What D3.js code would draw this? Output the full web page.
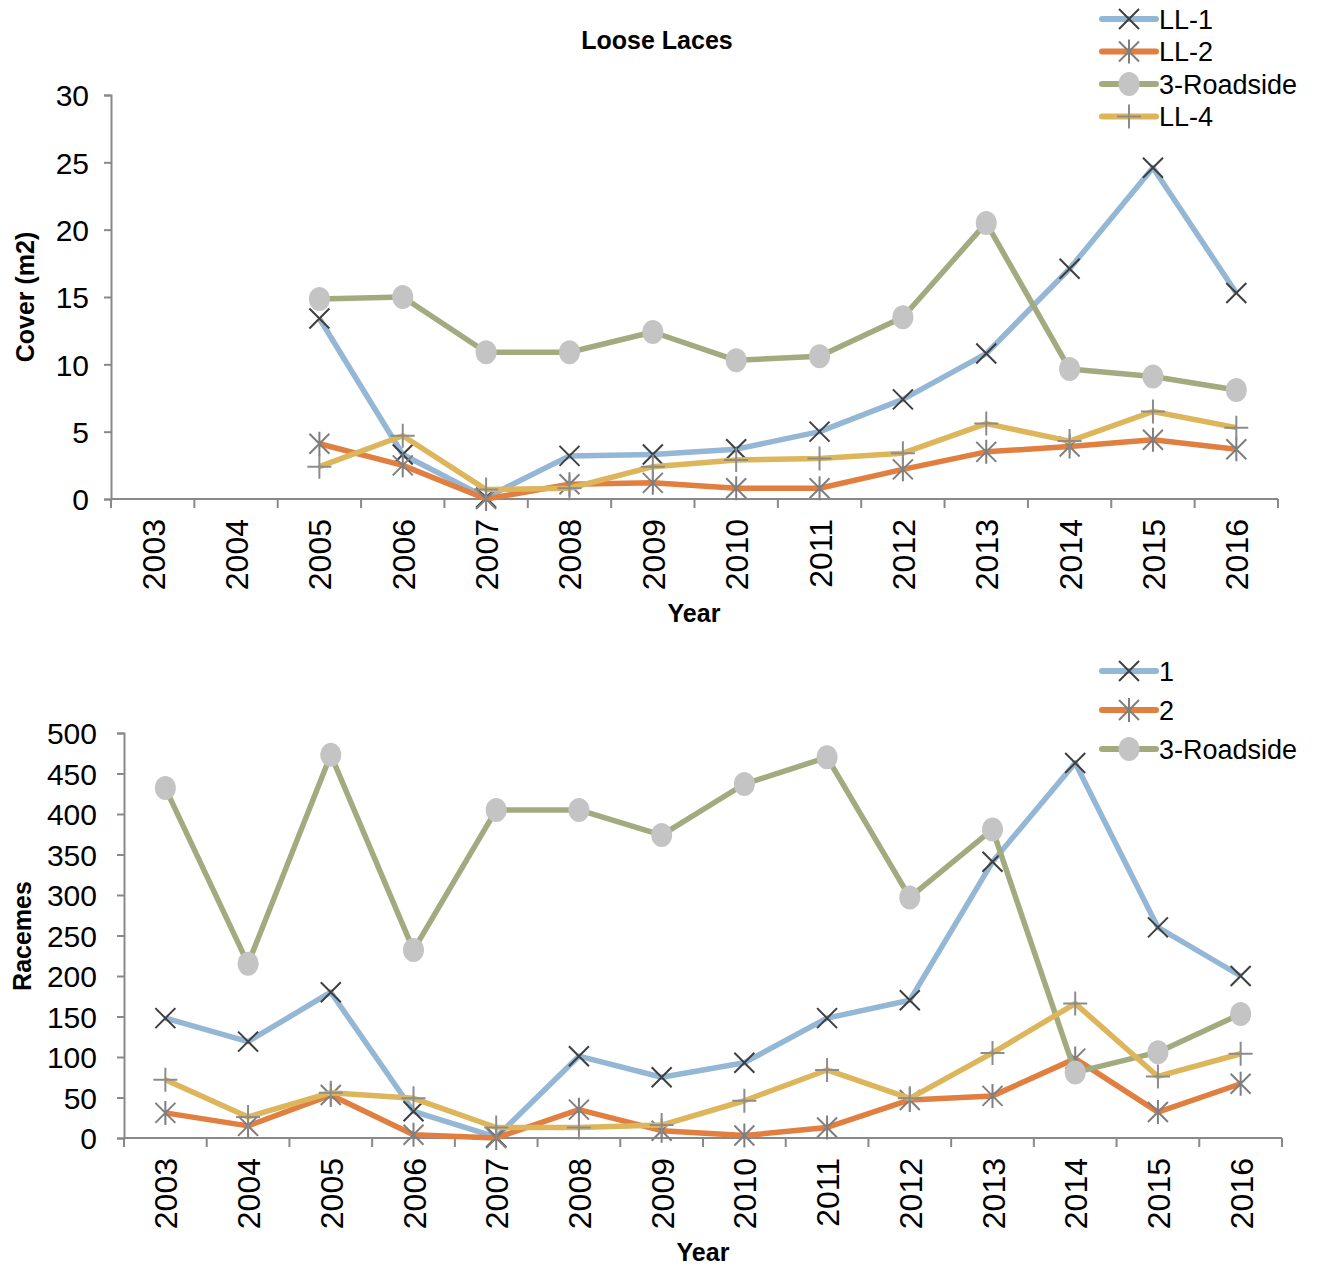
<!DOCTYPE html>
<html>
<head>
<meta charset="utf-8">
<script src="https://cdn.jsdelivr.net/npm/d3@7"></script>
<style>
  html, body { margin: 0; padding: 0; background: #fff; }
  svg { display: block; }
  text { font-family: "Liberation Sans", Arial, sans-serif; fill: #000; }
</style>
</head>
<body>
<svg id="chart" width="1322" height="1269"></svg>
<script>
// Survey years
const years = ["2003","2004","2005","2006","2007","2008","2009","2010","2011","2012","2013","2014","2015","2016"];

// Cover (m2) per plot
const coverLL1  = [null, null, 13.4, 3.3, 0.1, 3.2, 3.3, 3.7, 5.0, 7.4, 10.8, 17.1, 24.6, 15.3];
const coverLL2  = [null, null, 4.1, 2.5, 0.0, 1.1, 1.2, 0.8, 0.8, 2.2, 3.5, 3.9, 4.4, 3.7];
const coverRoad = [null, null, 14.85, 15.0, 10.9, 10.9, 12.4, 10.3, 10.6, 13.5, 20.5, 9.65, 9.1, 8.1];
const coverLL4  = [null, null, 2.4, 4.7, 0.7, 0.8, 2.4, 2.9, 3.0, 3.4, 5.6, 4.3, 6.5, 5.3];

// Raceme counts per plot
const racemes1    = [148, 119, 180, 33, 1, 101, 75, 93, 148, 170, 341, 463, 260, 200];
const racemes2    = [31, 15, 53, 4, 0, 35, 9, 3, 13, 47, 52, 98, 32, 67];
const racemesRoad = [432, 215, 473, 232, 405, 405, 374, 437, 470, 297, 381, 81, 106, 153];
const racemes4    = [72, 26, 56, 49, 13, 13, 16, 46, 84, 49, 105, 166, 76, 104];

const coverTicks = [0, 5, 10, 15, 20, 25, 30];
const racemeTicks = [0, 50, 100, 150, 200, 250, 300, 350, 400, 450, 500];

const style = {
  blue:   { line: "#94B7D6", marker: "x" },
  orange: { line: "#E07F40", marker: "star" },
  green:  { line: "#A2AB80", marker: "circle" },
  yellow: { line: "#DDB55A", marker: "plus" }
};

const svg = d3.select("#chart");
const axisColor = "#898989";

function drawMarker(g, type, x, y) {
  if (type === "x") {
    const s = 10;
    g.append("path")
      .attr("d", `M${x - s},${y - s}L${x + s},${y + s}M${x - s},${y + s}L${x + s},${y - s}`)
      .attr("stroke", "#3f3f3f").attr("stroke-width", 2).attr("fill", "none");
  } else if (type === "star") {
    const s = 10;
    g.append("path")
      .attr("d", `M${x - s},${y - s}L${x + s},${y + s}M${x - s},${y + s}L${x + s},${y - s}M${x},${y - s - 2}L${x},${y + s + 2}`)
      .attr("stroke", "#7f7f7f").attr("stroke-width", 2).attr("fill", "none");
  } else if (type === "circle") {
    g.append("ellipse")
      .attr("cx", x).attr("cy", y).attr("rx", 10.5).attr("ry", 12)
      .attr("fill", "#C4C4C4");
  } else if (type === "plus") {
    const s = 12;
    g.append("path")
      .attr("d", `M${x - s},${y}L${x + s},${y}M${x},${y - s}L${x},${y + s}`)
      .attr("stroke", "#8c8c8c").attr("stroke-width", 2).attr("fill", "none");
  }
}

function drawChart(cfg) {
  const g = svg.append("g");
  const x = d3.scaleBand().domain(years).range([cfg.left, cfg.right]);
  const y = d3.scaleLinear().domain([0, cfg.max]).range([cfg.bottom, cfg.top]);

  // Y axis
  const yAxis = g.append("g")
    .attr("transform", `translate(${cfg.left},0)`)
    .call(d3.axisLeft(y).tickValues(cfg.ticks).tickSize(7).tickPadding(cfg.yPad).tickFormat(d3.format("d")));
  yAxis.select(".domain").attr("stroke", axisColor).attr("stroke-width", 2);
  yAxis.selectAll(".tick line").attr("stroke", axisColor).attr("stroke-width", 2);
  yAxis.selectAll(".tick text")
    .style("font-size", "30px").style("font-family", "Liberation Sans, Arial, sans-serif")
    .attr("fill", "#000").attr("dy", "0.36em");

  // X axis: ticks at category boundaries, labels rotated
  const xAxisG = g.append("g").attr("transform", `translate(0,${cfg.bottom})`);
  xAxisG.append("line")
    .attr("x1", cfg.left).attr("x2", cfg.right)
    .attr("stroke", axisColor).attr("stroke-width", 2);
  const bounds = years.map(d => x(d)).concat([x(years[years.length - 1]) + x.bandwidth()]);
  xAxisG.selectAll("line.tk").data(bounds).enter().append("line")
    .attr("class", "tk")
    .attr("x1", d => d).attr("x2", d => d).attr("y1", 0).attr("y2", 9)
    .attr("stroke", axisColor).attr("stroke-width", 2);
  xAxisG.selectAll("text.yr").data(years).enter().append("text")
    .attr("class", "yr")
    .attr("transform", d => `translate(${x(d) + x.bandwidth() / 2 + 12},${cfg.labelGap}) rotate(-90)`)
    .attr("text-anchor", "end")
    .style("font-size", "32px")
    .text(d => d);

  // Axis titles
  g.append("text")
    .attr("x", cfg.xTitleX).attr("y", cfg.xTitleY)
    .attr("text-anchor", "middle")
    .style("font-size", "25px").style("font-weight", "bold")
    .text("Year");
  g.append("text")
    .attr("transform", `translate(${cfg.yTitleX},${cfg.yTitleY}) rotate(-90)`)
    .attr("text-anchor", "middle")
    .style("font-size", "25px").style("font-weight", "bold")
    .text(cfg.yTitle);

  // Series
  const line = d3.line()
    .defined(d => d != null)
    .x((d, i) => x(years[i]) + x.bandwidth() / 2)
    .y(d => y(d));

  cfg.series.forEach(s => {
    const sg = g.append("g");
    sg.append("path")
      .datum(s.values)
      .attr("d", line)
      .attr("fill", "none")
      .attr("stroke", style[s.color].line)
      .attr("stroke-width", 5.5)
      .attr("stroke-linejoin", "round");
    s.values.forEach((v, i) => {
      if (v == null) return;
      drawMarker(sg, style[s.color].marker, x(years[i]) + x.bandwidth() / 2, y(v));
    });
  });

  // Legend
  const lg = g.append("g");
  cfg.legend.forEach((s, i) => {
    const ly = cfg.legendY + i * cfg.legendStep;
    lg.append("line")
      .attr("x1", 1102).attr("x2", 1156).attr("y1", ly).attr("y2", ly)
      .attr("stroke", style[s.color].line).attr("stroke-width", 6)
      .attr("stroke-linecap", "round");
    drawMarker(lg, style[s.color].marker, 1129, ly);
    lg.append("text")
      .attr("x", 1159).attr("y", ly).attr("dy", "0.36em")
      .style("font-size", "27px")
      .text(s.name);
  });
}

// Title
svg.append("text")
  .attr("x", 657).attr("y", 49)
  .attr("text-anchor", "middle")
  .style("font-size", "25px").style("font-weight", "bold")
  .text("Loose Laces");

const coverSeries = [
  { name: "LL-1", color: "blue", values: coverLL1 },
  { name: "LL-2", color: "orange", values: coverLL2 },
  { name: "3-Roadside", color: "green", values: coverRoad },
  { name: "LL-4", color: "yellow", values: coverLL4 }
];

drawChart({
  left: 111, right: 1278, top: 95, bottom: 499, max: 30,
  ticks: coverTicks, yPad: 15, labelGap: 20,
  yTitle: "Cover (m2)", yTitleX: 34, yTitleY: 297,
  xTitleX: 694, xTitleY: 622,
  series: coverSeries,
  legend: coverSeries,
  legendY: 19, legendStep: 32.5
});

const racemeSeries = [
  { name: "1", color: "blue", values: racemes1 },
  { name: "2", color: "orange", values: racemes2 },
  { name: "3-Roadside", color: "green", values: racemesRoad },
  { name: "4", color: "yellow", values: racemes4 }
];

drawChart({
  left: 124, right: 1282, top: 733, bottom: 1138, max: 500,
  ticks: racemeTicks, yPad: 20, labelGap: 20,
  yTitle: "Racemes", yTitleX: 31, yTitleY: 936,
  xTitleX: 703, xTitleY: 1261,
  series: racemeSeries,
  legend: racemeSeries.slice(0, 3),
  legendY: 671, legendStep: 39
});
</script>
</body>
</html>
